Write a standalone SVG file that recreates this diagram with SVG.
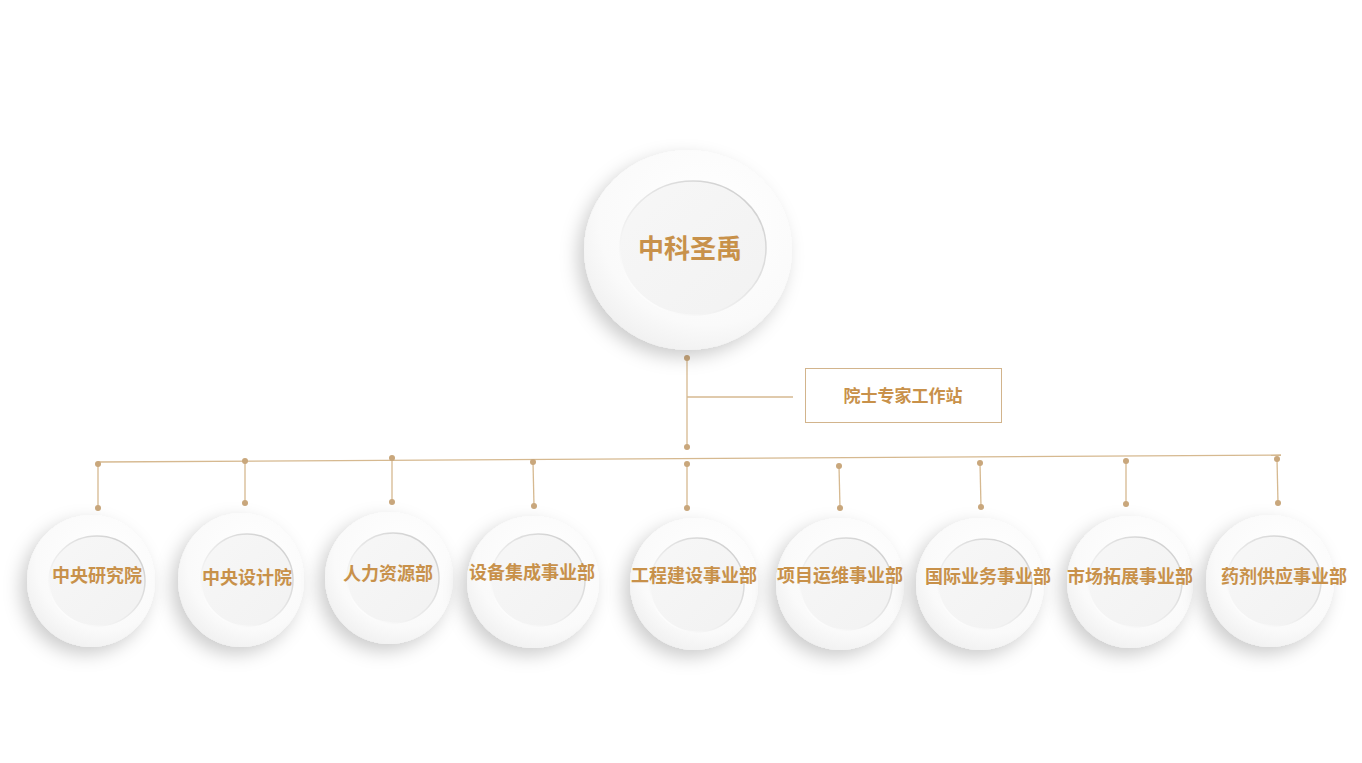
<svg xmlns="http://www.w3.org/2000/svg" width="1362" height="763" viewBox="0 0 1362 763">
<defs>
  <radialGradient id="outerG" cx="0.6" cy="0.35" r="0.75">
    <stop offset="0" stop-color="#ffffff"/>
    <stop offset="0.7" stop-color="#fafafa"/>
    <stop offset="1" stop-color="#ededed"/>
  </radialGradient>
  <linearGradient id="innerG" x1="0" y1="0" x2="1" y2="1">
    <stop offset="0" stop-color="#f7f7f7"/>
    <stop offset="1" stop-color="#f2f2f2"/>
  </linearGradient>
  <linearGradient id="rimG" x1="0.1" y1="0.9" x2="0.9" y2="0.1">
    <stop offset="0" stop-color="#ffffff"/>
    <stop offset="0.5" stop-color="#e8e8e8"/>
    <stop offset="1" stop-color="#cfcfcf"/>
  </linearGradient>
  <filter id="shadow" x="-40%" y="-40%" width="180%" height="180%">
    <feDropShadow dx="-6" dy="7" stdDeviation="9" flood-color="#000000" flood-opacity="0.2"/>
  </filter>
  <style>
    .outer { fill: url(#outerG); filter: url(#shadow); }
    .inner { fill: url(#innerG); stroke: url(#rimG); stroke-width: 1.5; }
    .lbl { font-family: "Microsoft YaHei", "Noto Sans CJK SC", sans-serif; font-weight: 700; fill: #c8914a; text-anchor: middle; }
    .line { stroke: #d6b990; stroke-width: 1.3; fill: none; }
    .dot { fill: #c9a77c; }
  </style>
</defs>
<rect width="1362" height="763" fill="#ffffff"/>

<g id="connectors">
  <line class="line" x1="687" y1="358" x2="687" y2="447"/>
  <line class="line" x1="687" y1="397" x2="793" y2="397"/>
  <line class="line" x1="98" y1="462" x2="1281" y2="455"/>
  <line class="line" x1="98" y1="464" x2="98" y2="508"/>
  <line class="line" x1="245" y1="461" x2="245" y2="503"/>
  <line class="line" x1="392" y1="458" x2="392" y2="502"/>
  <line class="line" x1="533" y1="462" x2="534" y2="506"/>
  <line class="line" x1="687" y1="464" x2="687" y2="508"/>
  <line class="line" x1="839" y1="466" x2="840" y2="508"/>
  <line class="line" x1="980" y1="463" x2="981" y2="507"/>
  <line class="line" x1="1126" y1="461" x2="1126" y2="504"/>
  <line class="line" x1="1277" y1="459" x2="1278" y2="503"/>
  <circle class="dot" cx="687" cy="358" r="3"/>
  <circle class="dot" cx="687" cy="447" r="3"/>
  <circle class="dot" cx="98" cy="464" r="3"/>
  <circle class="dot" cx="98" cy="508" r="3"/>
  <circle class="dot" cx="245" cy="461" r="3"/>
  <circle class="dot" cx="245" cy="503" r="3"/>
  <circle class="dot" cx="392" cy="458" r="3"/>
  <circle class="dot" cx="392" cy="502" r="3"/>
  <circle class="dot" cx="533" cy="462" r="3"/>
  <circle class="dot" cx="534" cy="506" r="3"/>
  <circle class="dot" cx="687" cy="464" r="3"/>
  <circle class="dot" cx="687" cy="508" r="3"/>
  <circle class="dot" cx="839" cy="466" r="3"/>
  <circle class="dot" cx="840" cy="508" r="3"/>
  <circle class="dot" cx="980" cy="463" r="3"/>
  <circle class="dot" cx="981" cy="507" r="3"/>
  <circle class="dot" cx="1126" cy="461" r="3"/>
  <circle class="dot" cx="1126" cy="504" r="3"/>
  <circle class="dot" cx="1277" cy="459" r="3"/>
  <circle class="dot" cx="1278" cy="503" r="3"/>
</g>

<g id="node-root">
  <ellipse class="outer" cx="688" cy="250" rx="104" ry="100"/>
  <ellipse class="inner" cx="693" cy="248" rx="73" ry="67"/>
  <text class="lbl" x="690" y="258" font-size="26">中科圣禹</text>
</g>

<g id="node-station">
  <rect x="805.5" y="368.5" width="196" height="54" fill="#ffffff" stroke="#d2b48c" stroke-width="1"/>
  <text class="lbl" x="903" y="402" font-size="17">院士专家工作站</text>
</g>

<g id="node-1">
  <ellipse class="outer" cx="91" cy="581" rx="64" ry="66"/>
  <ellipse class="inner" cx="97" cy="581" rx="48" ry="45"/>
  <text class="lbl" x="97" y="582" font-size="18">中央研究院</text>
</g>
<g id="node-2">
  <ellipse class="outer" cx="241" cy="580" rx="63" ry="67"/>
  <ellipse class="inner" cx="247" cy="580" rx="46" ry="46"/>
  <text class="lbl" x="247" y="584" font-size="18">中央设计院</text>
</g>
<g id="node-3">
  <ellipse class="outer" cx="389" cy="578" rx="64" ry="66"/>
  <ellipse class="inner" cx="393" cy="578" rx="46" ry="45"/>
  <text class="lbl" x="388" y="580" font-size="18">人力资源部</text>
</g>
<g id="node-4">
  <ellipse class="outer" cx="533" cy="582" rx="66" ry="66"/>
  <ellipse class="inner" cx="538" cy="580" rx="47" ry="46"/>
  <text class="lbl" x="532" y="579" font-size="18">设备集成事业部</text>
</g>
<g id="node-5">
  <ellipse class="outer" cx="694" cy="584" rx="64" ry="66"/>
  <ellipse class="inner" cx="697" cy="585" rx="47" ry="47"/>
  <text class="lbl" x="694" y="582" font-size="18">工程建设事业部</text>
</g>
<g id="node-6">
  <ellipse class="outer" cx="840" cy="584" rx="64" ry="66"/>
  <ellipse class="inner" cx="846" cy="584" rx="46" ry="46"/>
  <text class="lbl" x="840" y="582" font-size="18">项目运维事业部</text>
</g>
<g id="node-7">
  <ellipse class="outer" cx="980" cy="584" rx="64" ry="66"/>
  <ellipse class="inner" cx="985" cy="584" rx="47" ry="45"/>
  <text class="lbl" x="988" y="583" font-size="18">国际业务事业部</text>
</g>
<g id="node-8">
  <ellipse class="outer" cx="1130" cy="582" rx="63" ry="66"/>
  <ellipse class="inner" cx="1135" cy="582" rx="47" ry="45"/>
  <text class="lbl" x="1130" y="583" font-size="18">市场拓展事业部</text>
</g>
<g id="node-9">
  <ellipse class="outer" cx="1270" cy="581" rx="64" ry="66"/>
  <ellipse class="inner" cx="1274" cy="581" rx="47" ry="45"/>
  <text class="lbl" x="1284" y="583" font-size="18">药剂供应事业部</text>
</g>
</svg>
